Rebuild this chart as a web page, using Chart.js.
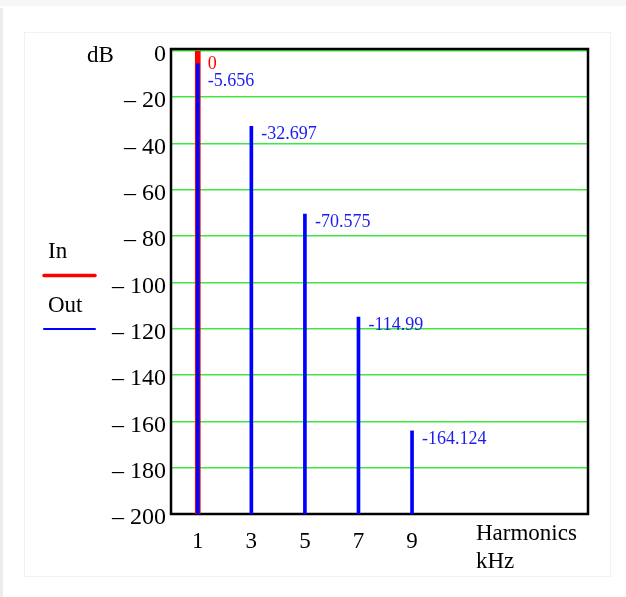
<!DOCTYPE html>
<html>
<head>
<meta charset="utf-8">
<script src="https://cdn.jsdelivr.net/npm/chart.js@4.4.0/dist/chart.umd.min.js"></script>
<style>
  html, body { margin: 0; padding: 0; background: #fff; }
  #wrap { position: relative; width: 626px; height: 597px; overflow: hidden; }
  .band { position: absolute; left: 0; top: 0; width: 626px; height: 6px; background: #f6f6f6; }
  .edge { position: absolute; left: 0; top: 8px; width: 3px; height: 589px; background: #ececec; }
  .panel { position: absolute; left: 24px; top: 32px; width: 585px; height: 543px; border: 1px solid #f1f1f1; }
  canvas { position: absolute; left: 0; top: 0; }
</style>
</head>
<body>
<div id="wrap">
  <div class="band"></div>
  <div class="edge"></div>
  <div class="panel"></div>
  <canvas id="myChart" width="626" height="597"></canvas>
</div>
<script>
// harmonic numbers and levels (dB)
const harmonics = [1, 3, 5, 7, 9];
const outLevels = [-5.656, -32.697, -70.575, -114.99, -164.124];
const inHarmonics = [1];
const inLevels = [0];
const floorLevel = -200;

// axis ticks
const xTickValues = [1, 3, 5, 7, 9];
const yTickValues = [0, -20, -40, -60, -80, -100, -120, -140, -160, -180, -200];

const serif = '"Liberation Serif", "Times New Roman", serif';
const redColor = "#ff0000";
const blueColor = "#0000ff";

// stems go from the floor up to the level
const toStems = (xs, levels) => levels.map((v, i) => ({ x: xs[i], y: [floorLevel, v] }));

// frame round the plot area
const framePlugin = {
  id: "frame",
  beforeDatasetsDraw(chart) {
    const { ctx, chartArea: a } = chart;
    ctx.save();
    ctx.strokeStyle = "#000";
    ctx.lineWidth = 2.5;
    ctx.strokeRect(a.left, a.top, a.right - a.left, a.bottom - a.top);
    ctx.restore();
  },
};

// value labels next to the top of each stem
const valueLabels = {
  id: "valueLabels",
  afterDatasetsDraw(chart) {
    const { ctx, chartArea } = chart;
    const yScale = chart.scales.y;
    const lastBaseline = {};
    ctx.save();
    ctx.font = "18px " + serif;
    ctx.textAlign = "left";
    ctx.textBaseline = "alphabetic";
    // In first, then Out
    [1, 0].forEach((di) => {
      const ds = chart.data.datasets[di];
      const meta = chart.getDatasetMeta(di);
      ctx.fillStyle = ds.labelColor;
      meta.data.forEach((el, i) => {
        const level = ds.levels[i];
        const key = Math.round(el.x);
        let base = yScale.getPixelForValue(level) + 13;
        base = Math.max(base, chartArea.top + 20);
        if (lastBaseline[key] !== undefined) base = Math.max(base, lastBaseline[key] + 17);
        lastBaseline[key] = base;
        ctx.fillText(String(level), el.x + 10, base);
      });
    });
    ctx.restore();
  },
};

// axis names and the little legend on the left
const sideTexts = {
  id: "sideTexts",
  afterDraw(chart) {
    const { ctx } = chart;
    ctx.save();
    ctx.font = "23px " + serif;
    ctx.fillStyle = "#000";
    ctx.textBaseline = "alphabetic";
    ctx.textAlign = "left";
    ctx.fillText("dB", 87, 62);
    ctx.fillText("Harmonics", 476, 540);
    ctx.fillText("kHz", 476, 568);

    ctx.fillText("In", 48, 258);
    ctx.fillText("Out", 48, 312);
    ctx.lineCap = "round";
    ctx.strokeStyle = redColor;
    ctx.lineWidth = 3.5;
    ctx.beginPath(); ctx.moveTo(44, 275.5); ctx.lineTo(95, 275.5); ctx.stroke();
    ctx.strokeStyle = blueColor;
    ctx.lineWidth = 2;
    ctx.beginPath(); ctx.moveTo(44, 329); ctx.lineTo(95, 329); ctx.stroke();
    ctx.restore();
  },
};

const data = {
  datasets: [
    {
      label: "Out",
      data: toStems(harmonics, outLevels),
      levels: outLevels,
      labelColor: "#1c1cf2",
      backgroundColor: blueColor,
      barThickness: 3,
      grouped: false,
      order: 1,
    },
    {
      label: "In",
      data: toStems(inHarmonics, inLevels),
      levels: inLevels,
      labelColor: redColor,
      backgroundColor: redColor,
      barThickness: 5,
      grouped: false,
      order: 2,
    },
  ],
};

const config = {
  type: "bar",
  data: data,
  options: {
    responsive: false,
    animation: false,
    layout: { padding: { left: 100, top: 49, right: 38, bottom: 40 } },
    plugins: { legend: { display: false }, tooltip: { enabled: false } },
    scales: {
      x: {
        type: "linear",
        min: 0,
        max: 15.57,
        offset: false,
        grid: { display: false, drawTicks: false },
        border: { display: false },
        ticks: { color: "#000", font: { family: serif, size: 23 }, padding: 14, autoSkip: false, maxRotation: 0 },
        afterBuildTicks: (scale) => { scale.ticks = xTickValues.map((v) => ({ value: v })); },
        afterFit: (scale) => { scale.height = 43; },
      },
      y: {
        type: "linear",
        min: floorLevel,
        max: 0.7,
        grid: { color: "#3ee83e", lineWidth: 1.5, drawTicks: false },
        border: { display: false },
        ticks: {
          color: "#000",
          font: { family: serif, size: 24 },
          padding: 5,
          labelOffset: 4,
          callback: (v) => (v === 0 ? "0" : "\u2013 " + -v),
        },
        afterBuildTicks: (scale) => { scale.ticks = yTickValues.map((v) => ({ value: v })); },
        afterFit: (scale) => { scale.width = 71; },
      },
    },
  },
  plugins: [framePlugin, valueLabels, sideTexts],
};

const ctx = document.getElementById("myChart");
const myChart = new Chart(ctx, config);
</script>
</body>
</html>
